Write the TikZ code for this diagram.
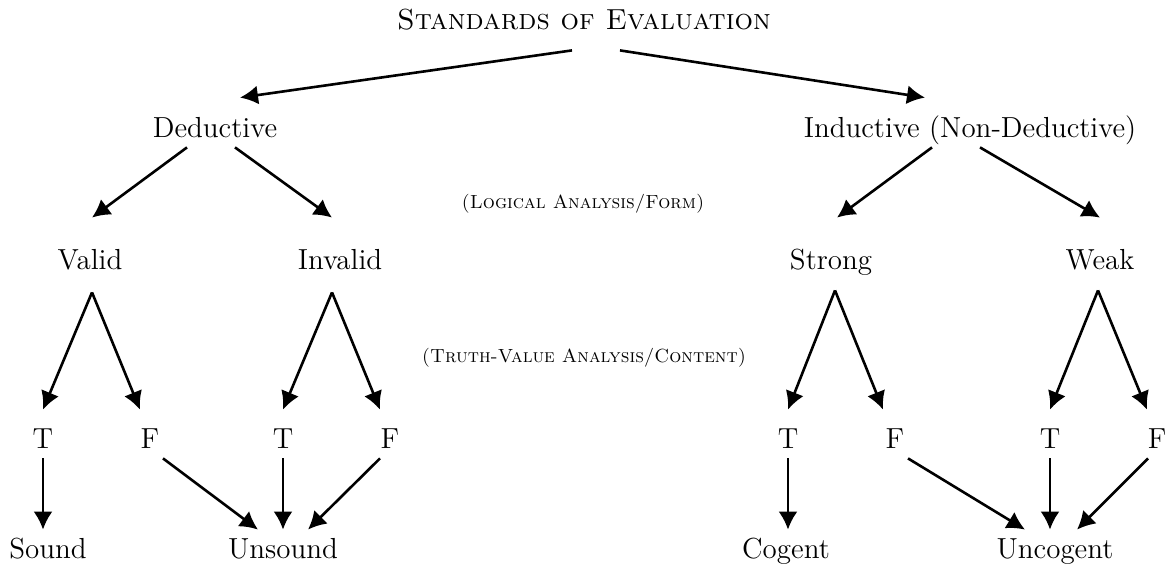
\documentclass[tikz,border=0pt]{standalone}
\usetikzlibrary{arrows.meta}

\tikzset{
  lbl/.style={inner sep=0pt, anchor=base, text height=10pt, text depth=3pt,
    font=\fontsize{14.5}{17}\selectfont},
  note/.style={inner sep=0pt, anchor=base, font=\fontsize{9.5}{11}\selectfont\scshape},
  arr/.style={-{Latex[length=9pt,width=9.5pt]}, line width=1.3pt},
}

\begin{document}
\begin{tikzpicture}[x=0.5pt, y=-0.5pt]
    \useasboundingbox (0,0) rectangle (1171,566);

    % top levels
    \node[lbl] (title) at (584,30) {\textsc{Standards of Evaluation}};
    \node[lbl] (ded) at (215,138) {Deductive};
    \node[lbl] (ind) at (970,138) {Inductive (Non-Deductive)};
    \node[note] (logic) at (583,209) {(Logical Analysis/Form)};

    \node[lbl] (valid) at (90,270) {Valid};
    \node[lbl] (invalid) at (340,270) {Invalid};
    \node[lbl] (strong) at (831,270) {Strong};
    \node[lbl] (weak) at (1100,270) {Weak};
    \node[note] (truth) at (584,362) {(Truth-Value Analysis/Content)};

    % truth values
    \node[lbl] (vT) at (43,448) {T};
    \node[lbl] (vF) at (150,448) {F};
    \node[lbl] (iT) at (283,448) {T};
    \node[lbl] (iF) at (390,448) {F};
    \node[lbl] (sT) at (788,448) {T};
    \node[lbl] (sF) at (895,448) {F};
    \node[lbl] (wT) at (1050,448) {T};
    \node[lbl] (wF) at (1157,448) {F};

    \node[lbl] (sound) at (48,558) {Sound};
    \node[lbl] (unsound) at (283,558) {Unsound};
    \node[lbl] (cogent) at (786,558) {Cogent};
    \node[lbl] (uncogent) at (1055,558) {Uncogent};

    \draw[arr] ([xshift=-6pt,yshift=-7pt]title.south) -- ([xshift=12.5pt,yshift=10pt]ded.north);
    \draw[arr] ([xshift=18pt,yshift=-7pt]title.south) -- ([xshift=-22.5pt,yshift=10pt]ind.north);

    \draw[arr] ([xshift=-14pt,yshift=-1.5pt]ded.south) -- ([xshift=1pt,yshift=16pt]valid.north);
    \draw[arr] ([xshift=10pt,yshift=-1.5pt]ded.south) -- ([xshift=-4pt,yshift=16pt]invalid.north);
    \draw[arr] ([xshift=-19pt,yshift=-1.5pt]ind.south) -- ([xshift=3pt,yshift=16pt]strong.north);
    \draw[arr] ([xshift=5pt,yshift=-1.5pt]ind.south) -- ([yshift=16pt]weak.north);

    \draw[arr] ([xshift=1pt,yshift=-8pt]valid.south) -- ([yshift=9pt]vT.north);
    \draw[arr] ([xshift=1pt,yshift=-8pt]valid.south) -- ([xshift=-5pt,yshift=9pt]vF.north);
    \draw[arr] ([xshift=-4pt,yshift=-8pt]invalid.south) -- ([yshift=9pt]iT.north);
    \draw[arr] ([xshift=-4pt,yshift=-8pt]invalid.south) -- ([xshift=-5pt,yshift=9pt]iF.north);
    \draw[arr] ([xshift=2pt,yshift=-7pt]strong.south) -- ([yshift=9pt]sT.north);
    \draw[arr] ([xshift=2pt,yshift=-7pt]strong.south) -- ([xshift=-6pt,yshift=9pt]sF.north);
    \draw[arr] ([xshift=-1pt,yshift=-7pt]weak.south) -- ([yshift=9pt]wT.north);
    \draw[arr] ([xshift=-1pt,yshift=-7pt]weak.south) -- ([xshift=-5pt,yshift=9pt]wF.north);

    % results
    \draw[arr] ([yshift=-2pt]vT.south) -- ([xshift=-2.5pt,yshift=4pt]sound.north);
    \draw[arr] ([xshift=6.5pt,yshift=-2pt]vF.south) -- ([xshift=-12.5pt,yshift=4pt]unsound.north);
    \draw[arr] ([yshift=-2pt]iT.south) -- ([yshift=4pt]unsound.north);
    \draw[arr] ([xshift=-5pt,yshift=-2pt]iF.south) -- ([xshift=12.5pt,yshift=4pt]unsound.north);
    \draw[arr] ([yshift=-2pt]sT.south) -- ([xshift=1pt,yshift=4pt]cogent.north);
    \draw[arr] ([xshift=6.5pt,yshift=-2pt]sF.south) -- ([xshift=-15pt,yshift=4pt]uncogent.north);
    \draw[arr] ([yshift=-2pt]wT.south) -- ([xshift=-2.5pt,yshift=4pt]uncogent.north);
    \draw[arr] ([xshift=-4.5pt,yshift=-2pt]wF.south) -- ([xshift=11pt,yshift=4pt]uncogent.north);
\end{tikzpicture}
\end{document}
